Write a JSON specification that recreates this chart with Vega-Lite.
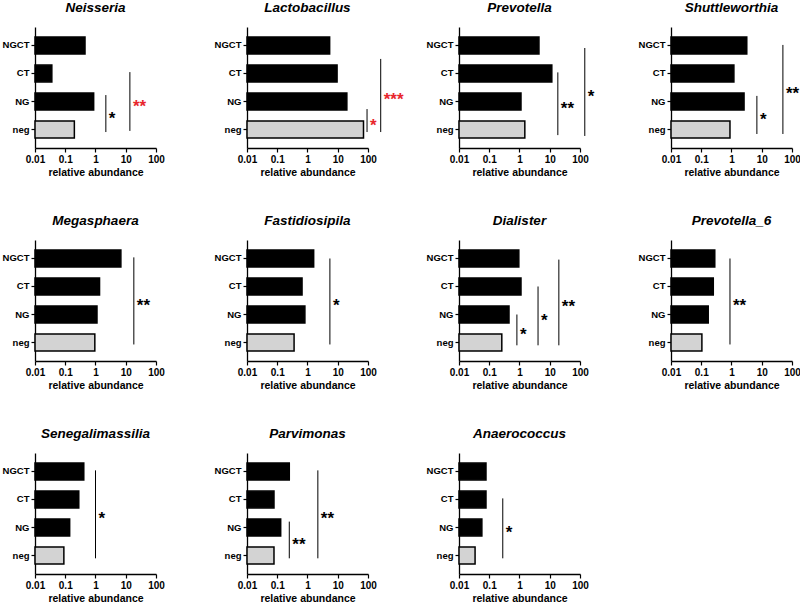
{
  "$schema": "https://vega.github.io/schema/vega-lite/v6.json",
  "background": "white",
  "padding": {"left": 2, "top": 0, "right": 5, "bottom": 2},
  "config": {
    "font": "Liberation Sans",
    "view": {"stroke": null},
    "axis": {
      "grid": false,
      "domainColor": "black",
      "domainWidth": 1.3,
      "tickColor": "black",
      "tickWidth": 1.2,
      "tickSize": 4,
      "labelColor": "black",
      "labelFont": "Liberation Sans",
      "labelFontWeight": "bold",
      "titleColor": "black",
      "titleFont": "Liberation Sans",
      "titleFontWeight": "bold"
    }
  },
  "data": {"values": [
    {"genus": "Neisseria", "kind": "bar", "group": "NGCT", "value": 0.45},
    {"genus": "Neisseria", "kind": "bar", "group": "CT", "value": 0.036},
    {"genus": "Neisseria", "kind": "bar", "group": "NG", "value": 0.87},
    {"genus": "Neisseria", "kind": "bar", "group": "neg", "value": 0.2},
    {"genus": "Lactobacillus", "kind": "bar", "group": "NGCT", "value": 5.4},
    {"genus": "Lactobacillus", "kind": "bar", "group": "CT", "value": 9.5},
    {"genus": "Lactobacillus", "kind": "bar", "group": "NG", "value": 20},
    {"genus": "Lactobacillus", "kind": "bar", "group": "neg", "value": 71},
    {"genus": "Prevotella", "kind": "bar", "group": "NGCT", "value": 4.4},
    {"genus": "Prevotella", "kind": "bar", "group": "CT", "value": 11.7},
    {"genus": "Prevotella", "kind": "bar", "group": "NG", "value": 1.12},
    {"genus": "Prevotella", "kind": "bar", "group": "neg", "value": 1.5},
    {"genus": "Shuttleworthia", "kind": "bar", "group": "NGCT", "value": 3.2},
    {"genus": "Shuttleworthia", "kind": "bar", "group": "CT", "value": 1.2},
    {"genus": "Shuttleworthia", "kind": "bar", "group": "NG", "value": 2.6},
    {"genus": "Shuttleworthia", "kind": "bar", "group": "neg", "value": 0.89},
    {"genus": "Megasphaera", "kind": "bar", "group": "NGCT", "value": 6.9},
    {"genus": "Megasphaera", "kind": "bar", "group": "CT", "value": 1.36},
    {"genus": "Megasphaera", "kind": "bar", "group": "NG", "value": 1.12},
    {"genus": "Megasphaera", "kind": "bar", "group": "neg", "value": 0.95},
    {"genus": "Fastidiosipila", "kind": "bar", "group": "NGCT", "value": 1.6},
    {"genus": "Fastidiosipila", "kind": "bar", "group": "CT", "value": 0.66},
    {"genus": "Fastidiosipila", "kind": "bar", "group": "NG", "value": 0.82},
    {"genus": "Fastidiosipila", "kind": "bar", "group": "neg", "value": 0.36},
    {"genus": "Dialister", "kind": "bar", "group": "NGCT", "value": 0.95},
    {"genus": "Dialister", "kind": "bar", "group": "CT", "value": 1.12},
    {"genus": "Dialister", "kind": "bar", "group": "NG", "value": 0.45},
    {"genus": "Dialister", "kind": "bar", "group": "neg", "value": 0.26},
    {"genus": "Prevotella_6", "kind": "bar", "group": "NGCT", "value": 0.28},
    {"genus": "Prevotella_6", "kind": "bar", "group": "CT", "value": 0.25},
    {"genus": "Prevotella_6", "kind": "bar", "group": "NG", "value": 0.17},
    {"genus": "Prevotella_6", "kind": "bar", "group": "neg", "value": 0.105},
    {"genus": "Senegalimassilia", "kind": "bar", "group": "NGCT", "value": 0.41},
    {"genus": "Senegalimassilia", "kind": "bar", "group": "CT", "value": 0.28},
    {"genus": "Senegalimassilia", "kind": "bar", "group": "NG", "value": 0.14},
    {"genus": "Senegalimassilia", "kind": "bar", "group": "neg", "value": 0.09},
    {"genus": "Parvimonas", "kind": "bar", "group": "NGCT", "value": 0.25},
    {"genus": "Parvimonas", "kind": "bar", "group": "CT", "value": 0.078},
    {"genus": "Parvimonas", "kind": "bar", "group": "NG", "value": 0.13},
    {"genus": "Parvimonas", "kind": "bar", "group": "neg", "value": 0.078},
    {"genus": "Anaerococcus", "kind": "bar", "group": "NGCT", "value": 0.078},
    {"genus": "Anaerococcus", "kind": "bar", "group": "CT", "value": 0.078},
    {"genus": "Anaerococcus", "kind": "bar", "group": "NG", "value": 0.057},
    {"genus": "Anaerococcus", "kind": "bar", "group": "neg", "value": 0.034},
    {"genus": "Neisseria", "kind": "sig", "x": 2.2, "y1": 1.77, "y2": 3.09, "label": "*", "highlight": "no"},
    {"genus": "Neisseria", "kind": "sig", "x": 13.7, "y1": 0.95, "y2": 3.05, "label": "**", "highlight": "yes"},
    {"genus": "Lactobacillus", "kind": "sig", "x": 93, "y1": 2.27, "y2": 3.09, "label": "*", "highlight": "yes"},
    {"genus": "Lactobacillus", "kind": "sig", "x": 263, "y1": 0.48, "y2": 3.09, "label": "***", "highlight": "yes"},
    {"genus": "Prevotella", "kind": "sig", "x": 18.5, "y1": 0.96, "y2": 3.2, "label": "**", "highlight": "no"},
    {"genus": "Prevotella", "kind": "sig", "x": 144, "y1": 0.09, "y2": 3.23, "label": "*", "highlight": "no"},
    {"genus": "Shuttleworthia", "kind": "sig", "x": 6.9, "y1": 1.8, "y2": 3.16, "label": "*", "highlight": "no"},
    {"genus": "Shuttleworthia", "kind": "sig", "x": 50, "y1": -0.02, "y2": 3.16, "label": "**", "highlight": "no"},
    {"genus": "Megasphaera", "kind": "sig", "x": 18.5, "y1": -0.04, "y2": 3.07, "label": "**", "highlight": "no"},
    {"genus": "Fastidiosipila", "kind": "sig", "x": 5.5, "y1": 0, "y2": 3.07, "label": "*", "highlight": "no"},
    {"genus": "Dialister", "kind": "sig", "x": 0.82, "y1": 2.0, "y2": 3.1, "label": "*", "highlight": "no"},
    {"genus": "Dialister", "kind": "sig", "x": 4.1, "y1": 1.0, "y2": 3.1, "label": "*", "highlight": "no"},
    {"genus": "Dialister", "kind": "sig", "x": 20, "y1": 0.04, "y2": 3.1, "label": "**", "highlight": "no"},
    {"genus": "Prevotella_6", "kind": "sig", "x": 0.89, "y1": 0, "y2": 3.07, "label": "**", "highlight": "no"},
    {"genus": "Senegalimassilia", "kind": "sig", "x": 1.0, "y1": -0.04, "y2": 3.1, "label": "*", "highlight": "no"},
    {"genus": "Parvimonas", "kind": "sig", "x": 0.25, "y1": 1.79, "y2": 3.1, "label": "**", "highlight": "no"},
    {"genus": "Parvimonas", "kind": "sig", "x": 2.2, "y1": -0.04, "y2": 3.1, "label": "**", "highlight": "no"},
    {"genus": "Anaerococcus", "kind": "sig", "x": 0.28, "y1": 0.96, "y2": 3.1, "label": "*", "highlight": "no"}
  ]},
  "facet": {
    "field": "genus",
    "type": "nominal",
    "sort": ["Neisseria", "Lactobacillus", "Prevotella", "Shuttleworthia", "Megasphaera", "Fastidiosipila", "Dialister", "Prevotella_6", "Senegalimassilia", "Parvimonas", "Anaerococcus"],
    "header": {
      "title": null,
      "labelFont": "Liberation Sans",
      "labelFontStyle": "italic",
      "labelFontWeight": "bold",
      "labelFontSize": 13.5,
      "labelColor": "black",
      "labelPadding": 13
    }
  },
  "columns": 4,
  "bounds": "flush",
  "spacing": {"row": 92, "column": 91},
  "resolve": {"axis": {"x": "independent", "y": "independent"}},
  "spec": {
    "width": 121,
    "height": 121,
    "resolve": {"scale": {"y": "independent", "color": "independent"}},
    "layer": [
      {
        "transform": [{"filter": "datum.kind === 'bar'"}],
        "mark": {"type": "bar", "stroke": "black", "strokeWidth": 1.5, "orient": "horizontal"},
        "encoding": {
          "y": {
            "field": "group", "type": "nominal",
            "sort": ["NGCT", "CT", "NG", "neg"],
            "scale": {"paddingInner": 0.4, "paddingOuter": 0.36},
            "axis": {"title": null, "labelFontSize": 9.5, "labelPadding": 2}
          },
          "x": {
            "field": "value", "type": "quantitative",
            "scale": {"type": "log", "domain": [0.01, 100], "nice": false, "padding": 0},
            "axis": {
              "title": "relative abundance",
              "values": [0.01, 0.1, 1, 10, 100],
              "format": "~g",
              "labelFlush": false,
              "labelOverlap": false,
              "labelFontSize": 10,
              "labelPadding": 2,
              "titleFontSize": 10.5,
              "titlePadding": 3
            }
          },
          "x2": {"datum": 0.01},
          "color": {
            "field": "group", "type": "nominal",
            "scale": {"domain": ["NGCT", "CT", "NG", "neg"], "range": ["black", "black", "black", "#d3d3d3"]},
            "legend": null
          }
        }
      },
      {
        "transform": [{"filter": "datum.kind === 'sig'"}],
        "mark": {"type": "rule", "strokeWidth": 1, "clip": false},
        "encoding": {
          "x": {"field": "x", "type": "quantitative", "scale": {"type": "log", "domain": [0.01, 100], "nice": false, "padding": 0}},
          "y": {"field": "y1", "type": "quantitative", "scale": {"domain": [-0.66, 3.66], "reverse": true}, "axis": null},
          "y2": {"field": "y2"},
          "color": {"value": "black"}
        }
      },
      {
        "transform": [
          {"filter": "datum.kind === 'sig'"},
          {"calculate": "(datum.y1 + datum.y2) / 2", "as": "ymid"}
        ],
        "mark": {"type": "text", "align": "left", "baseline": "middle", "dx": 3, "dy": 5, "fontSize": 17, "fontWeight": "bold", "font": "Liberation Sans", "clip": false},
        "encoding": {
          "x": {"field": "x", "type": "quantitative", "scale": {"type": "log", "domain": [0.01, 100], "nice": false, "padding": 0}},
          "y": {"field": "ymid", "type": "quantitative", "scale": {"domain": [-0.66, 3.66], "reverse": true}, "axis": null},
          "text": {"field": "label"},
          "color": {
            "field": "highlight", "type": "nominal",
            "scale": {"domain": ["no", "yes"], "range": ["black", "#e8262d"]},
            "legend": null
          }
        }
      }
    ]
  }
}
